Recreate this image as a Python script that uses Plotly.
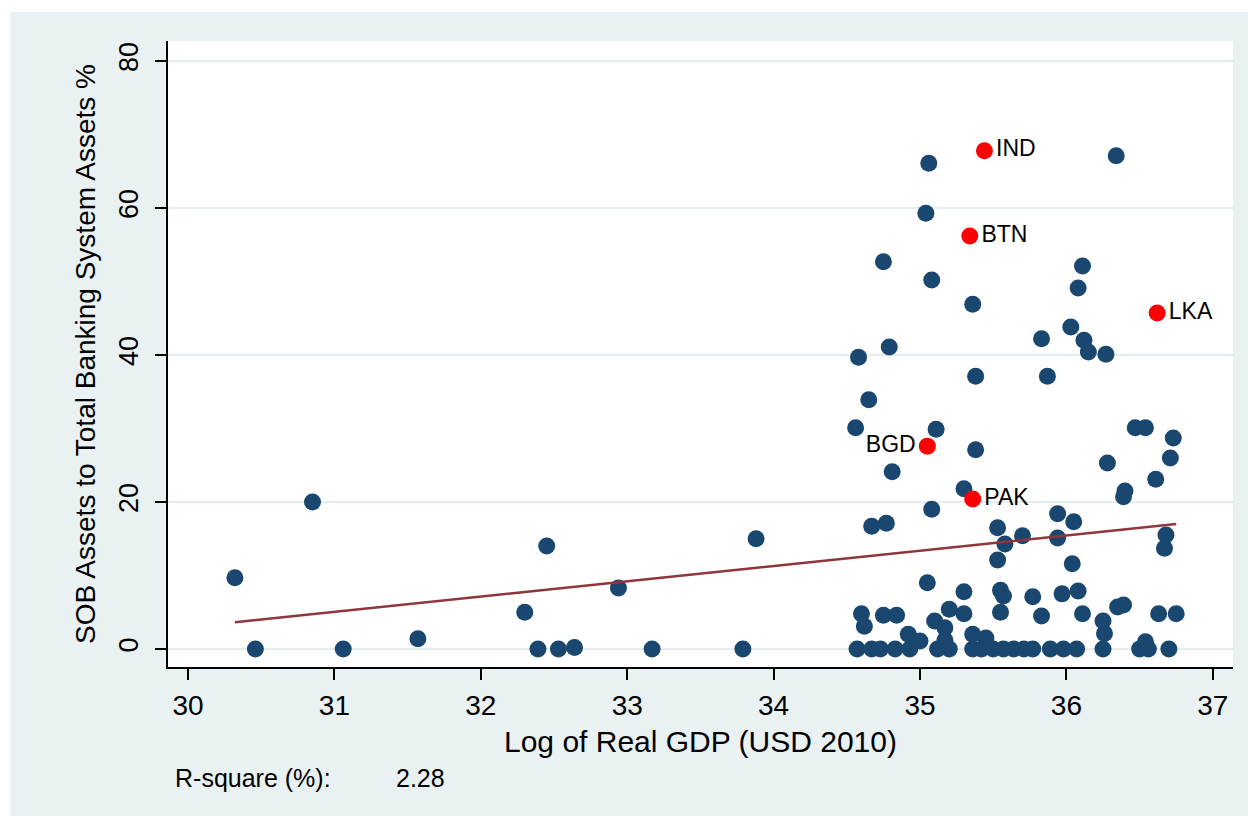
import numpy as np
import plotly.graph_objects as go

# Log of real GDP (USD 2010) and state-owned bank assets share (%) by country-year
gdp_log = [
    30.32, 30.46, 30.85, 31.06, 31.57, 32.30, 32.39, 32.45, 32.53, 32.64,
    32.94, 33.17, 33.79, 33.88,
    35.06, 36.34, 35.04, 34.75, 35.08, 36.11, 36.08, 35.36, 36.03, 35.83,
    36.12, 36.15, 36.27, 34.79, 34.58, 35.38, 35.87,
    34.65, 34.56, 35.11, 35.38, 34.81, 35.30, 35.08, 34.67, 34.77, 35.53,
    35.58, 35.70, 35.53, 36.47, 36.54, 36.73, 36.28, 36.71, 36.61, 36.40,
    36.39, 35.94, 36.05, 35.94, 36.68, 36.67, 36.04,
    35.05, 35.30, 35.55, 35.57, 35.77, 35.97, 36.08, 36.35, 36.39, 34.60,
    34.62, 34.75, 34.84, 35.20, 35.30, 35.55, 35.83, 36.11, 36.63, 36.75,
    35.10, 35.17, 36.25, 36.26, 34.92, 35.00, 35.17, 35.36, 35.45, 36.54,
    34.57, 34.67, 34.73, 34.83, 34.93, 35.12, 35.20, 35.36, 35.42, 35.50,
    35.57, 35.64, 35.71, 35.77, 35.89, 35.98, 36.07, 36.25, 36.50, 36.56,
    36.70,
]
sob_share = [
    9.7, 0.0, 20.0, 0.0, 1.4, 5.0, 0.0, 14.0, 0.0, 0.2,
    8.3, 0.0, 0.0, 15.0,
    66.1, 67.1, 59.3, 52.7, 50.2, 52.1, 49.1, 46.9, 43.8, 42.2,
    42.0, 40.4, 40.1, 41.1, 39.7, 37.1, 37.1,
    33.9, 30.1, 29.9, 27.1, 24.1, 21.8, 19.0, 16.7, 17.1, 16.5,
    14.3, 15.4, 12.1, 30.1, 30.1, 28.7, 25.3, 26.0, 23.1, 21.5,
    20.7, 18.4, 17.3, 15.1, 15.5, 13.7, 11.6,
    9.0, 7.8, 8.0, 7.2, 7.1, 7.5, 7.9, 5.7, 6.0, 4.8,
    3.1, 4.6, 4.6, 5.4, 4.8, 5.0, 4.5, 4.8, 4.8, 4.8,
    3.8, 2.9, 3.8, 2.1, 2.0, 1.1, 1.2, 2.0, 1.5, 1.0,
    0.0, 0.0, 0.0, 0.0, 0.0, 0.0, 0.0, 0.0, 0.0, 0.0,
    0.0, 0.0, 0.0, 0.0, 0.0, 0.0, 0.0, 0.0, 0.0, 0.0,
    0.0,
]

# South Asian economies, highlighted and labelled
sa_codes = ["IND", "BTN", "LKA", "BGD", "PAK"]
sa_gdp_log = [35.44, 35.34, 36.62, 35.05, 35.36]
sa_sob_share = [67.8, 56.2, 45.7, 27.6, 20.4]
sa_label_side = ["middle right", "middle right", "middle right", "middle left", "middle right"]

# Reported linear fit of SOB share on log GDP
fit_intercept = -59.30
fit_slope = 2.076
r_square_pct = "2.28"

x_ticks = [30, 31, 32, 33, 34, 35, 36, 37]
y_ticks = [0, 20, 40, 60, 80]

FONT = "Liberation Sans, Arial, sans-serif"
NAVY = "#1A476F"
MAROON = "#90353B"
BG = "#EAF1F3"
GRID = "#E3ECEF"

all_x = np.array(gdp_log + sa_gdp_log)
fit_x = np.array([all_x.min(), all_x.max()])
fit_y = fit_intercept + fit_slope * fit_x

fig = go.Figure()

fig.add_trace(go.Scatter(
    x=gdp_log, y=sob_share, mode="markers",
    marker=dict(color=NAVY, size=17, line=dict(width=0)),
    showlegend=False, hoverinfo="x+y",
))

fig.add_trace(go.Scatter(
    x=sa_gdp_log, y=sa_sob_share, mode="markers+text",
    text=sa_codes, textposition=sa_label_side,
    textfont=dict(family=FONT, size=23, color="black"),
    marker=dict(color="#FF0000", size=17, line=dict(width=0)),
    showlegend=False, hoverinfo="text+x+y",
))

fig.add_trace(go.Scatter(
    x=fit_x, y=fit_y, mode="lines",
    line=dict(color=MAROON, width=2.5),
    showlegend=False, hoverinfo="skip",
))

L, R, T, B = 168, 15, 41, 149
W, H = 1248, 816
pw, ph = W - L - R, H - T - B


def px_x(p):
    return (p - L) / pw


def px_y(p):
    return (H - B - p) / ph


fig.update_layout(
    width=W, height=H,
    margin=dict(l=L, r=R, t=T, b=B),
    paper_bgcolor=BG,
    plot_bgcolor="white",
    font=dict(family=FONT, color="black"),
    xaxis=dict(
        range=[29.863, 37.138], tickvals=x_ticks,
        ticks="outside", ticklen=11, tickwidth=1.5, tickcolor="black",
        tickfont=dict(size=28), ticklabelstandoff=2,
        showline=True, linecolor="black", linewidth=1.5,
        showgrid=False, zeroline=False,
    ),
    yaxis=dict(
        range=[-2.45, 82.72], tickvals=y_ticks, tickangle=-90,
        ticks="outside", ticklen=11, tickwidth=1.5, tickcolor="black",
        tickfont=dict(size=27), ticklabelstandoff=6,
        showline=True, linecolor="black", linewidth=1.5,
        showgrid=True, gridcolor=GRID, gridwidth=2, zeroline=False,
    ),
    shapes=[
        dict(type="rect", xref="paper", yref="paper", layer="below",
             x0=px_x(0), x1=px_x(10), y0=px_y(H), y1=px_y(0),
             fillcolor="white", line=dict(width=0)),
        dict(type="rect", xref="paper", yref="paper", layer="below",
             x0=px_x(0), x1=px_x(W), y0=px_y(12), y1=px_y(0),
             fillcolor="white", line=dict(width=0)),
    ],
    annotations=[
        dict(text="SOB Assets to Total Banking System Assets %",
             xref="paper", yref="paper", x=px_x(85), y=0.5,
             textangle=-90, showarrow=False, font=dict(size=28),
             xanchor="center", yanchor="middle"),
        dict(text="Log of Real GDP (USD 2010)",
             xref="paper", yref="paper", x=0.5, y=px_y(741),
             showarrow=False, font=dict(size=30),
             xanchor="center", yanchor="middle"),
        dict(text="R-square (%):",
             xref="paper", yref="paper", x=px_x(173), y=px_y(778),
             showarrow=False, font=dict(size=25),
             xanchor="left", yanchor="middle"),
        dict(text=r_square_pct,
             xref="paper", yref="paper", x=px_x(394), y=px_y(778),
             showarrow=False, font=dict(size=25),
             xanchor="left", yanchor="middle"),
    ],
)

fig.write_html("out.html")
